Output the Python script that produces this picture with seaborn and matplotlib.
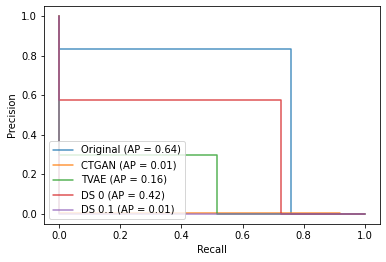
import matplotlib
matplotlib.use("Agg")
import matplotlib.pyplot as plt
import seaborn as sns
import pandas as pd

sns.set_style("ticks", {"text.color": "black", "axes.labelcolor": "black",
                        "xtick.color": "black", "ytick.color": "black",
                        "axes.edgecolor": "black"})
plt.rcParams['font.family'] = ['DejaVu Sans']

labels = ["Original (AP = 0.64)", "CTGAN (AP = 0.01)", "TVAE (AP = 0.16)",
          "DS 0 (AP = 0.42)", "DS 0.1 (AP = 0.01)"]
recalls = [
    [1.0, 0.76, 0.0],
    [0.918, 0.0],
    [1.0, 0.517, 0.0],
    [1.0, 0.727, 0.0],
    [1.0, 0.0],
]
precisions = [
    [0.0015, 0.834, 1.0],
    [0.008, 1.0],
    [0.0015, 0.299, 1.0],
    [0.0015, 0.576, 1.0],
    [0.0015, 1.0],
]
colors = ["#1f77b4", "#ff7f0e", "#2ca02c", "#d62728", "#9467bd"]

fig = plt.figure(figsize=(386 / 72, 262 / 72), dpi=72)
ax = fig.add_axes([44 / 386, 1 - 224 / 262, (380 - 44) / 386, (224 - 6) / 262])

for lab, r, p, c in zip(labels, recalls, precisions, colors):
    df = pd.DataFrame({"Recall": r, "Precision": p})
    sns.lineplot(data=df, x="Recall", y="Precision", sort=False, estimator=None,
                 drawstyle="steps-post", color=c, label=lab, ax=ax,
                 linewidth=1.5, alpha=0.8)

for s in ax.spines.values():
    s.set_visible(True)
    s.set_color("black")
    s.set_linewidth(0.8)
ax.tick_params(labelsize=10, length=3.5, width=0.8, color="black", labelcolor="black")
ax.set_xlabel("Recall", fontsize=10, color="black")
ax.set_ylabel("Precision", fontsize=10, color="black")
ax.set_xlim(-0.05, 1.05)
ax.set_ylim(-0.05, 1.05)
ax.set_xticks([0, 0.2, 0.4, 0.6, 0.8, 1.0])
ax.set_yticks([0, 0.2, 0.4, 0.6, 0.8, 1.0])
leg = ax.legend(loc="lower left", fontsize=10, frameon=True)
for t in leg.get_texts():
    t.set_color("black")

fig.savefig("out.png", dpi=72)
